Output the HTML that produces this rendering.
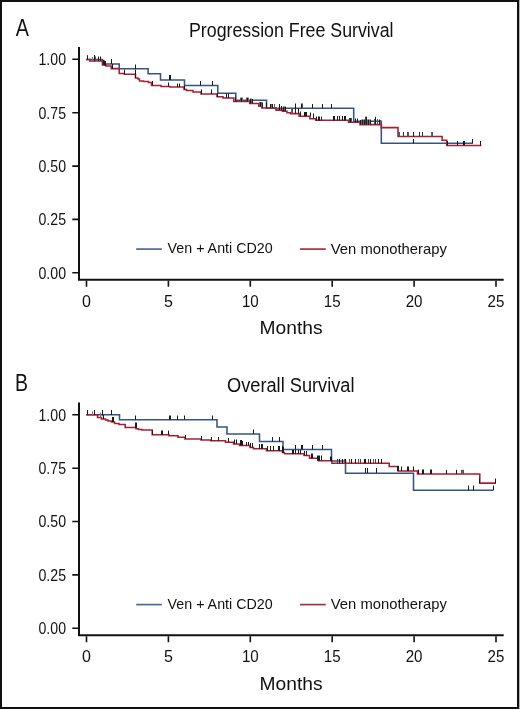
<!DOCTYPE html>
<html><head><meta charset="utf-8"><style>
html,body{margin:0;padding:0;background:#fff;}
body{width:520px;height:709px;overflow:hidden;position:relative;}
svg{position:absolute;left:0;top:0;display:block;will-change:transform;}
text{font-family:"Liberation Sans", sans-serif;fill:#111;}
</style></head><body>
<svg width="520" height="709" viewBox="0 0 520 709">
<rect x="0" y="0" width="520" height="709" fill="#fff"/>
<rect x="519" y="0" width="1" height="709" fill="#b4b4b4"/>
<path d="M1,1H518V708H1Z" fill="none" stroke="#111" stroke-width="2"/>
<path d="M79,48.1V279.8H502.7" fill="none" stroke="#111" stroke-width="2" stroke-linecap="square"/>
<path d="M72.3,59.3H78 M72.3,112.7H78 M72.3,166.1H78 M72.3,219.4H78 M72.3,272.8H78 M86.5,280.8V286.7 M168.4,280.8V286.7 M250.3,280.8V286.7 M332.2,280.8V286.7 M414.1,280.8V286.7 M496.0,280.8V286.7" fill="none" stroke="#111" stroke-width="1.6"/>
<text x="66" y="65.1" font-size="16" text-anchor="end" textLength="27.5" lengthAdjust="spacingAndGlyphs">1.00</text>
<text x="66" y="118.5" font-size="16" text-anchor="end" textLength="27.5" lengthAdjust="spacingAndGlyphs">0.75</text>
<text x="66" y="171.9" font-size="16" text-anchor="end" textLength="27.5" lengthAdjust="spacingAndGlyphs">0.50</text>
<text x="66" y="225.2" font-size="16" text-anchor="end" textLength="27.5" lengthAdjust="spacingAndGlyphs">0.25</text>
<text x="66" y="278.6" font-size="16" text-anchor="end" textLength="27.5" lengthAdjust="spacingAndGlyphs">0.00</text>
<text x="86.5" y="306.9" font-size="16" text-anchor="middle">0</text>
<text x="168.4" y="306.9" font-size="16" text-anchor="middle">5</text>
<text x="250.3" y="306.9" font-size="16" text-anchor="middle" textLength="16.8" lengthAdjust="spacingAndGlyphs">10</text>
<text x="332.2" y="306.9" font-size="16" text-anchor="middle" textLength="16.8" lengthAdjust="spacingAndGlyphs">15</text>
<text x="414.1" y="306.9" font-size="16" text-anchor="middle" textLength="16.8" lengthAdjust="spacingAndGlyphs">20</text>
<text x="496.0" y="306.9" font-size="16" text-anchor="middle" textLength="16.8" lengthAdjust="spacingAndGlyphs">25</text>
<text x="259.6" y="334.2" font-size="19" textLength="63" lengthAdjust="spacingAndGlyphs">Months</text>
<text x="15.7" y="35.8" font-size="23.5" textLength="13.2" lengthAdjust="spacingAndGlyphs">A</text>
<text x="189" y="36.8" font-size="19.6" textLength="204.5" lengthAdjust="spacingAndGlyphs">Progression Free Survival</text>
<path d="M136.2,249.1H161.8" stroke="#4d6a90" stroke-width="1.7"/>
<path d="M300,249.1H325.8" stroke="#a8303f" stroke-width="1.7"/>
<text x="167.6" y="253.3" font-size="14.2" textLength="105" lengthAdjust="spacingAndGlyphs">Ven + Anti CD20</text>
<text x="330.8" y="253.5" font-size="14.2" textLength="116" lengthAdjust="spacingAndGlyphs">Ven monotherapy</text>
<path d="M86.2,59.5H102.5V64.0H119.2V68.8H148.1V73.8H160.5V80.0H184.5V85.5H217.8V93.2H235.8V100.3H266.5V108.3H353.7V121.3H381.3V143.2H473.0" fill="none" stroke="#34557f" stroke-width="1.55"/>
<path d="M86.2,59.5H89.8V61.0H102.5V65.0H106.0V66.0H111.2V68.6H119.2V73.4H124.4V74.2H135.5V78.0H138.0V79.0H139.5V81.0H143.5V81.5H148.5V82.5H151.5V85.5H161.0V86.5H170.0V87.0H184.0V89.5H186.5V90.5H193.0V92.0H201.0V94.0H217.0V96.8H223.0V98.0H233.8V101.4H249.7V103.4H258.8V106.3H261.7V108.0H276.0V110.1H282.4V111.3H287.0V112.7H290.5V113.6H299.1V116.3H309.9V118.7H315.7V120.3H348.5V122.3H360.0V124.6H381.3V127.6H398.0V136.4H442.1V140.2H446.7V145.4H481.5" fill="none" stroke="#a81f34" stroke-width="1.55"/>
<path d="M87.5,55.2V59.5 M94.5,55.0V61.2 M98.5,56.5V61.2 M100.5,56.5V60.7 M103.5,60.0V65.0 M104.5,60.5V65.5 M105.5,61.0V65.5 M111.5,59.0V64.0 M112.5,64.0V68.7 M124.5,69.5V74.2 M135.5,64.5V69.0 M135.5,69.5V78.0 M152.5,81.0V85.5 M169.5,75.0V80.0 M170.5,75.0V80.0 M168.5,82.5V86.5 M177.5,83.5V87.0 M179.5,83.5V87.0 M184.5,85.5V89.5 M200.5,81.0V85.5 M212.5,81.0V85.5 M201.5,89.5V94.0 M211.5,89.5V94.0 M217.5,93.0V97.0 M226.5,93.5V98.0 M228.5,93.5V98.0 M235.5,96.7V101.4 M241.5,97.6V101.8 M247.5,97.6V101.8 M250.5,98.6V103.6 M252.5,99.0V103.6 M260.5,102.0V106.3 M262.5,102.5V107.7 M266.5,102.5V108.0 M270.5,104.0V108.0 M272.5,104.0V108.0 M279.5,104.0V110.0 M281.5,106.0V110.5 M283.5,106.5V111.0 M285.5,106.5V111.3 M295.5,103.5V113.6 M298.5,108.7V113.6 M300.5,111.5V116.2 M301.5,103.5V108.4 M312.5,104.0V108.0 M322.5,104.0V108.0 M331.5,104.0V108.0 M300.5,112.0V116.0 M304.5,112.0V116.0 M305.5,112.0V116.0 M306.5,112.0V116.0 M310.5,112.5V116.5 M313.5,113.5V118.5 M316.5,116.5V120.5 M318.5,116.5V120.5 M319.5,116.5V120.5 M321.5,116.5V120.5 M333.5,116.0V120.5 M334.5,116.0V120.5 M337.5,116.0V120.5 M339.5,116.0V120.5 M342.5,116.0V120.5 M344.5,116.0V120.5 M345.5,116.0V120.5 M350.5,118.0V122.5 M355.5,118.5V122.5 M357.5,118.5V122.5 M360.5,120.0V124.6 M362.5,119.5V124.6 M364.5,119.5V124.6 M366.5,116.7V124.6 M368.5,119.5V124.6 M370.5,119.5V124.6 M375.5,116.8V124.6 M379.5,119.5V124.6 M413.5,132.0V136.4 M413.5,139.0V143.2 M447.5,141.0V145.4 M457.5,141.0V145.4 M463.5,141.0V145.4 M464.5,141.0V145.4 M472.5,139.0V143.2 M480.5,141.0V145.4" fill="none" stroke="#1a1a1a" stroke-width="1"/>
<path d="M92.5,57.0V61.2 M369.5,119.5V124.6" fill="none" stroke="#777" stroke-width="1"/>
<path d="M95.5,56.5V61.2 M240.5,97.6V101.8 M246.5,97.6V101.8 M274.5,104.0V108.0 M284.5,106.5V111.3 M292.5,108.7V113.6 M302.5,103.5V108.4 M351.5,118.0V122.5 M374.5,119.0V124.6 M377.5,119.0V124.6 M398.5,132.0V136.4 M399.5,132.0V136.4 M407.5,132.0V136.4 M408.5,132.0V136.4 M432.5,132.0V136.4" fill="none" stroke="#555" stroke-width="1"/>
<path d="M242.5,97.6V101.8 M248.5,97.6V101.8 M251.5,98.6V103.6 M259.5,102.0V106.3 M261.5,102.0V107.0 M271.5,104.0V108.0 M291.5,108.7V113.6 M361.5,119.5V124.6 M363.5,119.5V124.6 M367.5,119.5V124.6 M380.5,120.0V124.6 M431.5,132.0V136.4" fill="none" stroke="#666" stroke-width="1"/>
<path d="M349.5,118.0V122.5 M365.5,116.7V124.6" fill="none" stroke="#444" stroke-width="1"/>
<path d="M403.5,132.0V136.4 M419.5,132.0V136.4 M422.5,132.0V136.4" fill="none" stroke="#333" stroke-width="1"/>
<path d="M79,403.6V635.3H502.7" fill="none" stroke="#111" stroke-width="2" stroke-linecap="square"/>
<path d="M72.3,414.8H78 M72.3,468.2H78 M72.3,521.5H78 M72.3,574.9H78 M72.3,628.3H78 M86.5,636.3V642.2 M168.4,636.3V642.2 M250.3,636.3V642.2 M332.2,636.3V642.2 M414.1,636.3V642.2 M496.0,636.3V642.2" fill="none" stroke="#111" stroke-width="1.6"/>
<text x="66" y="420.6" font-size="16" text-anchor="end" textLength="27.5" lengthAdjust="spacingAndGlyphs">1.00</text>
<text x="66" y="474.0" font-size="16" text-anchor="end" textLength="27.5" lengthAdjust="spacingAndGlyphs">0.75</text>
<text x="66" y="527.3" font-size="16" text-anchor="end" textLength="27.5" lengthAdjust="spacingAndGlyphs">0.50</text>
<text x="66" y="580.7" font-size="16" text-anchor="end" textLength="27.5" lengthAdjust="spacingAndGlyphs">0.25</text>
<text x="66" y="634.1" font-size="16" text-anchor="end" textLength="27.5" lengthAdjust="spacingAndGlyphs">0.00</text>
<text x="86.5" y="662.4" font-size="16" text-anchor="middle">0</text>
<text x="168.4" y="662.4" font-size="16" text-anchor="middle">5</text>
<text x="250.3" y="662.4" font-size="16" text-anchor="middle" textLength="16.8" lengthAdjust="spacingAndGlyphs">10</text>
<text x="332.2" y="662.4" font-size="16" text-anchor="middle" textLength="16.8" lengthAdjust="spacingAndGlyphs">15</text>
<text x="414.1" y="662.4" font-size="16" text-anchor="middle" textLength="16.8" lengthAdjust="spacingAndGlyphs">20</text>
<text x="496.0" y="662.4" font-size="16" text-anchor="middle" textLength="16.8" lengthAdjust="spacingAndGlyphs">25</text>
<text x="259.6" y="689.7" font-size="19" textLength="63" lengthAdjust="spacingAndGlyphs">Months</text>
<text x="15.0" y="391.3" font-size="23.5" textLength="13.0" lengthAdjust="spacingAndGlyphs">B</text>
<text x="227" y="392.3" font-size="19.6" textLength="127.5" lengthAdjust="spacingAndGlyphs">Overall Survival</text>
<path d="M136.2,604.6H161.8" stroke="#4d6a90" stroke-width="1.7"/>
<path d="M300,604.6H325.8" stroke="#a8303f" stroke-width="1.7"/>
<text x="167.6" y="608.8" font-size="14.2" textLength="105" lengthAdjust="spacingAndGlyphs">Ven + Anti CD20</text>
<text x="330.8" y="609.0" font-size="14.2" textLength="116" lengthAdjust="spacingAndGlyphs">Ven monotherapy</text>
<path d="M86.2,414.8H119.5V419.8H217.0V427.0H227.0V434.0H259.5V441.5H283.0V449.5H331.5V461.0H345.5V473.2H413.5V490.2H493.3" fill="none" stroke="#34557f" stroke-width="1.55"/>
<path d="M86.2,414.8H97.5V417.5H101.5V419.0H105.5V420.0H108.0V421.0H111.5V422.0H114.5V423.5H119.0V424.5H125.2V427.5H136.0V428.8H138.5V429.5H142.0V430.0H152.2V434.8H169.0V435.8H178.0V437.2H185.0V439.0H201.0V440.0H210.5V440.8H225.5V442.2H233.5V444.0H239.5V445.5H250.0V447.5H253.5V448.8H266.5V450.7H282.5V452.5H284.5V453.8H304.0V455.5H309.5V458.2H318.5V460.8H332.0V463.3H389.2V466.4H398.0V470.9H417.5V474.0H479.8V483.1H496.0" fill="none" stroke="#a81f34" stroke-width="1.55"/>
<path d="M87.5,410.0V414.8 M94.5,410.0V414.8 M102.5,410.0V415.5 M103.5,415.0V419.0 M111.5,410.0V414.8 M112.5,417.0V422.0 M113.5,417.0V422.0 M135.5,415.5V419.7 M135.5,422.5V428.0 M136.5,422.5V428.0 M152.5,430.5V434.8 M161.5,430.5V434.8 M162.5,430.5V434.8 M168.5,430.5V434.8 M169.5,415.5V419.7 M170.5,415.5V419.7 M177.5,415.5V419.7 M184.5,415.5V419.7 M185.5,435.0V439.0 M201.5,436.0V440.0 M211.5,437.0V441.0 M212.5,415.5V419.7 M218.5,437.0V441.0 M228.5,438.0V442.2 M234.5,439.5V444.0 M236.5,439.5V444.0 M240.5,440.0V445.5 M241.5,440.0V445.5 M242.5,441.0V445.5 M246.5,442.0V445.5 M248.5,442.0V445.5 M250.5,443.0V447.5 M252.5,443.0V447.5 M253.5,429.5V434.0 M259.5,444.0V448.8 M261.5,444.0V448.8 M262.5,444.0V448.8 M267.5,446.0V451.0 M270.5,446.0V451.0 M273.5,446.0V451.0 M272.5,437.0V441.5 M278.5,446.0V451.0 M279.5,446.0V451.0 M279.5,437.0V441.5 M282.5,446.0V453.0 M283.5,447.0V453.0 M292.5,450.0V453.8 M293.5,450.0V453.8 M295.5,450.0V453.8 M295.5,445.0V449.5 M298.5,450.0V453.8 M300.5,450.0V453.8 M301.5,445.0V449.5 M302.5,445.0V449.5 M304.5,451.0V455.5 M306.5,451.0V455.5 M311.5,453.5V458.2 M312.5,453.5V458.2 M312.5,445.0V449.5 M317.5,455.5V460.8 M318.5,455.5V460.8 M319.5,455.5V460.8 M321.5,455.5V460.8 M322.5,445.0V449.5 M330.5,456.5V461.0 M331.5,456.5V461.0 M339.5,459.0V463.3 M342.5,459.0V463.3 M345.5,459.0V463.3 M351.5,459.0V463.3 M355.5,459.0V463.3 M364.5,459.0V463.3 M365.5,459.0V463.3 M370.5,459.0V463.3 M378.5,459.0V463.3 M381.5,459.0V463.3 M365.5,468.0V473.0 M367.5,468.0V473.0 M376.5,468.0V473.0 M397.5,466.0V471.0 M398.5,466.0V471.0 M401.5,466.5V471.0 M407.5,466.5V471.0 M408.5,466.5V471.0 M413.5,466.5V471.0 M418.5,469.5V474.0 M422.5,469.5V474.0 M423.5,469.5V474.0 M430.5,469.5V474.0 M431.5,469.5V474.0 M446.5,469.8V474.1 M456.5,469.8V474.1 M468.5,485.5V490.2 M473.5,485.5V490.2 M479.5,478.5V483.1 M493.5,485.5V490.2 M495.5,478.5V483.1" fill="none" stroke="#1a1a1a" stroke-width="1"/>
<path d="M92.5,411.5V415.0 M100.5,412.5V417.5" fill="none" stroke="#777" stroke-width="1"/>
<path d="M337.5,459.0V463.3 M360.5,459.0V463.3 M368.5,459.0V463.3 M375.5,459.0V463.3" fill="none" stroke="#444" stroke-width="1"/>
<path d="M344.5,459.0V463.3 M349.5,459.0V463.3 M358.5,459.0V463.3 M373.5,459.0V463.3 M461.5,469.8V474.1 M463.5,469.8V474.1" fill="none" stroke="#555" stroke-width="1"/>
<path d="M462.5,469.8V474.1" fill="none" stroke="#666" stroke-width="1"/>
</svg>
</body></html>
